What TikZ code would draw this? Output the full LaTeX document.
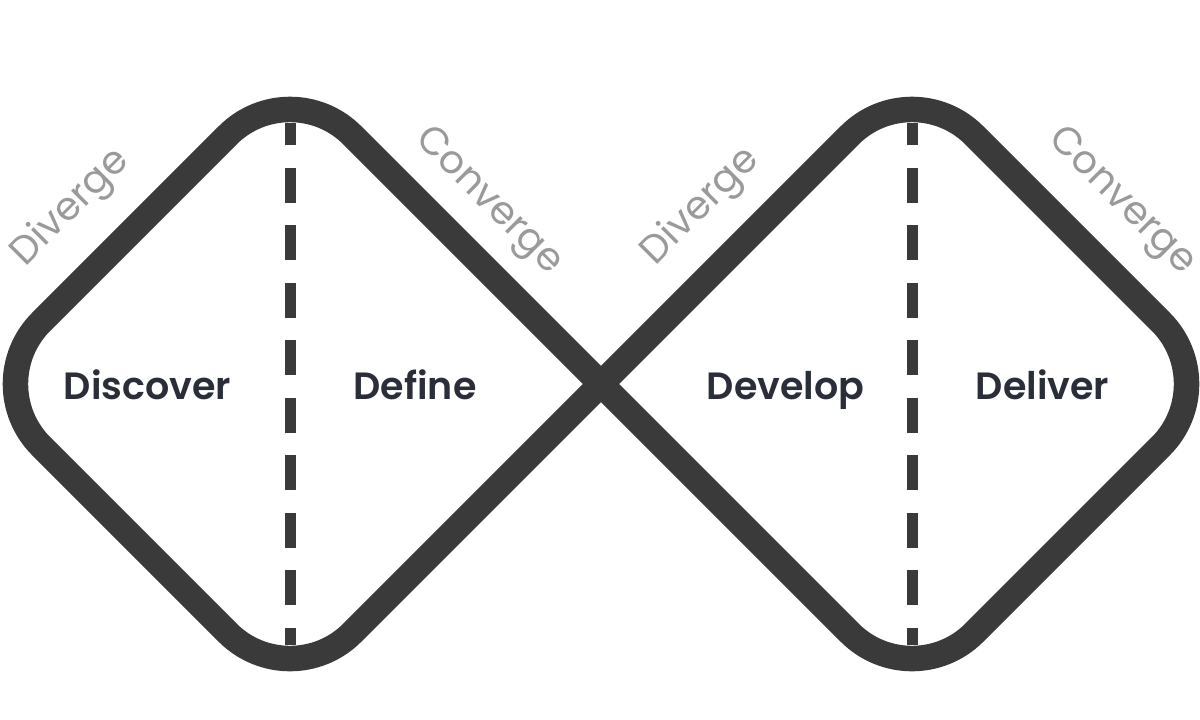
\documentclass[tikz,border=0pt]{standalone}
\usepackage{fontspec}
\setmainfont{Poppins}
\newfontfamily\phasefont{Poppins SemiBold}
\definecolor{linegray}{HTML}{3A3A3A}
\definecolor{textnavy}{HTML}{2A2E38}
\definecolor{labelgray}{HTML}{9A9A9A}
\tikzset{
  outline/.style={draw=linegray, line width=25.5pt, rounded corners=88pt, line join=round},
  divider/.style={draw=linegray, line width=11pt, dash pattern=on 35pt off 22.5pt, dash phase=13pt},
  phase/.style={font=\fontsize{38}{40}\selectfont\phasefont, text=textnavy, inner sep=0pt},
  motion/.style={font=\fontsize{39}{42}\selectfont, text=labelgray, inner sep=0pt}
}
\begin{document}
\begin{tikzpicture}[x=1pt, y=-1pt]
\useasboundingbox (0,0) rectangle (1200,720);
\fill[white] (0,0) rectangle (1200,720);
% corner coordinates
\coordinate (ltop) at (290,73);
\coordinate (lleft) at (-21,384);
\coordinate (lbot) at (290,695);
\coordinate (rtop) at (912,73);
\coordinate (rright) at (1223,384);
\coordinate (rbot) at (912,695);
% dashed dividers
\coordinate (ldt) at (290,123);
\coordinate (ldb) at (290,645);
\coordinate (rdt) at (912,123);
\coordinate (rdb) at (912,645);
\draw[divider] (ldt) -- (ldb);
\draw[divider] (rdt) -- (rdb);
% figure-eight outline
\draw[outline] (ltop) -- (rbot) -- (rright) -- (rtop) -- (lbot) -- (lleft) -- cycle;
% phase labels
\node[phase, anchor=base] (discover) at (147.5,399) {Discover};
\node[phase, anchor=base] (define) at (415,399) {Define};
\node[phase, anchor=base] (develop) at (785.5,399) {Develop};
\node[phase, anchor=base] (deliver) at (1042.5,399) {Deliver};
% diverge / converge labels
\node[motion, rotate=45] (div1) at (71,208) {Diverge};
\node[motion, rotate=-45] (con1) at (488,202) {Converge};
\node[motion, rotate=45] (div2) at (701,207) {Diverge};
\node[motion, rotate=-45] (con2) at (1121,202) {Converge};
\end{tikzpicture}
\end{document}
